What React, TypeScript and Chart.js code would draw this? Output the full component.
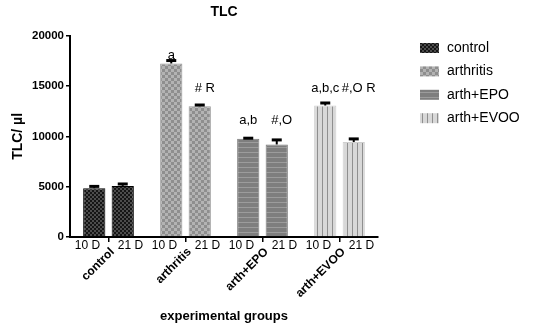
import { useEffect, useRef } from 'react';
import { Chart, registerables } from 'chart.js';
Chart.register(...registerables);

const groups = ['control', 'arthritis', 'arth+EPO', 'arth+EVOO'];
const dayLabels = ['10 D', '21 D'];
const day10 = [4850, 17250, 9770, 13070];
const day21 = [5080, 13000, 9200, 9440];
const err10 = [230, 340, 100, 300];
const err21 = [240, 170, 500, 360];
const notes10 = ['', 'a', 'a,b', 'a,b,c'];
const notes21 = ['', '# R', '#,O', '#,O R'];
const noteLevel10 = [0, 17670, 11260, 14390];
const noteLevel21 = [0, 14390, 11260, 14390];
const yMin = 0;
const yMax = 20000;
const yStep = 5000;

const FONT = "'Liberation Sans', Arial, Helvetica, sans-serif";

function makeTile(kind: number): HTMLCanvasElement {
  const c = document.createElement('canvas');
  const g = c.getContext('2d')!;
  if (kind === 0) {
    c.width = 4; c.height = 4;
    g.fillStyle = '#151515'; g.fillRect(0, 0, 4, 4);
    g.fillStyle = '#4c4c4c'; g.fillRect(0, 0, 2, 2); g.fillRect(2, 2, 2, 2);
  } else if (kind === 1) {
    c.width = 6; c.height = 6;
    g.fillStyle = '#8e8e8e'; g.fillRect(0, 0, 6, 6);
    g.fillStyle = '#b3b3b3'; g.fillRect(0, 0, 3, 3); g.fillRect(3, 3, 3, 3);
  } else if (kind === 2) {
    c.width = 5; c.height = 5;
    g.fillStyle = '#7e7e7e'; g.fillRect(0, 0, 5, 5);
    g.fillStyle = '#9c9c9c'; g.fillRect(0, 2, 5, 1);
  } else {
    c.width = 5; c.height = 5;
    g.fillStyle = '#d8d8d8'; g.fillRect(0, 0, 5, 5);
    g.fillStyle = '#8f8f8f'; g.fillRect(2, 0, 1, 5);
  }
  return c;
}

const borderColors = ['#000000', '#999999', '#7a7a7a', '#cfcfcf'];

export default function App() {
  const ref = useRef<HTMLCanvasElement>(null);
  useEffect(() => {
    document.body.style.margin = '0';
    const canvas = ref.current!;
    const ctx0 = canvas.getContext('2d')!;
    const patterns = [0, 1, 2, 3].map((k) => ctx0.createPattern(makeTile(k), 'repeat')!);

    const overlay = {
      id: 'overlay',
      afterDatasetsDraw(chart: any) {
        const ctx = chart.ctx;
        const ys = chart.scales.y;
        const xs = chart.scales.x;
        const sets: [number[], number[], string[], number[], number][] = [
          [day10, err10, notes10, noteLevel10, 0],
          [day21, err21, notes21, noteLevel21, 5],
        ];
        ctx.save();
        sets.forEach(([vals, errs, notes, levels, dx], di) => {
          const meta = chart.getDatasetMeta(di);
          meta.data.forEach((bar: any, i: number) => {
            const base = ys.getPixelForValue(vals[i]);
            const top = ys.getPixelForValue(vals[i] + errs[i]);
            ctx.strokeStyle = '#000';
            ctx.lineWidth = 2;
            ctx.beginPath();
            ctx.moveTo(bar.x, base);
            ctx.lineTo(bar.x, top);
            ctx.stroke();
            ctx.fillStyle = '#000';
            ctx.fillRect(bar.x - 5, top - 1, 10, 3);
            if (notes[i]) {
              ctx.font = `13px ${FONT}`;
              ctx.textAlign = 'center';
              ctx.textBaseline = 'alphabetic';
              ctx.fillText(notes[i], bar.x + dx, ys.getPixelForValue(levels[i]));
            }
          });
        });
        // x labels
        const yb = xs.top;
        groups.forEach((gname, i) => {
          const cx = xs.getPixelForValue(i);
          ctx.fillStyle = '#000';
          ctx.font = `12px ${FONT}`;
          ctx.textAlign = 'center';
          ctx.textBaseline = 'middle';
          ctx.fillText(dayLabels[0], cx - 21, yb + 9);
          ctx.fillText(dayLabels[1], cx + 22, yb + 9);
          ctx.save();
          ctx.translate(cx + 4, yb + 13);
          ctx.rotate(-Math.PI / 4);
          ctx.font = `bold 12px ${FONT}`;
          ctx.textAlign = 'right';
          ctx.textBaseline = 'middle';
          ctx.fillText(gname, 0, 0);
          ctx.restore();
        });
        // legend
        groups.forEach((gname, i) => {
          const cy = 48 + i * 23.4;
          ctx.fillStyle = patterns[i];
          ctx.fillRect(420, cy - 5, 19, 10);
          ctx.fillStyle = '#000';
          ctx.font = `14px ${FONT}`;
          ctx.textAlign = 'left';
          ctx.textBaseline = 'middle';
          ctx.fillText(gname, 447, cy);
        });
        ctx.restore();
      },
    };

    const chart = new Chart(canvas, {
      type: 'bar',
      data: {
        labels: groups,
        datasets: [
          { label: dayLabels[0], data: day10, backgroundColor: patterns, borderColor: borderColors, borderWidth: 1 },
          { label: dayLabels[1], data: day21, backgroundColor: patterns, borderColor: borderColors, borderWidth: 1 },
        ],
      },
      options: {
        animation: false,
        responsive: true,
        maintainAspectRatio: false,
        categoryPercentage: 0.74,
        barPercentage: 0.78,
        layout: { padding: { left: 0, right: 155, top: 0, bottom: 0 } },
        plugins: {
          legend: { display: false },
          tooltip: { enabled: false },
          title: {
            display: true,
            text: 'TLC',
            fullSize: false,
            color: '#000',
            font: { family: FONT, size: 14, weight: 'bold' },
            padding: { top: 4, bottom: 15 },
          },
        },
        scales: {
          x: {
            type: 'category',
            offset: true,
            border: { display: true, color: '#000', width: 2 },
            grid: { display: true, drawOnChartArea: false, drawTicks: true, tickLength: 5, color: '#000', lineWidth: 1.5, offset: false },
            ticks: { display: false },
            title: {
              display: true,
              text: 'experimental groups',
              color: '#000',
              font: { family: FONT, size: 13, weight: 'bold' },
              padding: { top: 0, bottom: 4 },
            },
            afterFit: (s: any) => { s.height = 91; },
          },
          y: {
            min: yMin,
            max: yMax,
            border: { display: true, color: '#000', width: 2 },
            grid: { display: true, drawOnChartArea: false, drawTicks: true, tickLength: 4, color: '#000', lineWidth: 1.5 },
            ticks: {
              stepSize: yStep,
              color: '#000',
              padding: 2,
              font: { family: FONT, size: 11.5, weight: 'bold' },
              callback: (v: any) => String(v),
            },
            title: {
              display: true,
              text: 'TLC/ µl',
              color: '#000',
              font: { family: FONT, size: 14, weight: 'bold' },
              padding: { top: 10, bottom: 0 },
            },
            afterFit: (s: any) => { s.width = 70; },
          },
        },
      },
      plugins: [overlay],
    });
    return () => chart.destroy();
  }, []);
  return (
    <div style={{ position: 'relative', width: 533, height: 328 }}>
      <canvas ref={ref} />
    </div>
  );
}
